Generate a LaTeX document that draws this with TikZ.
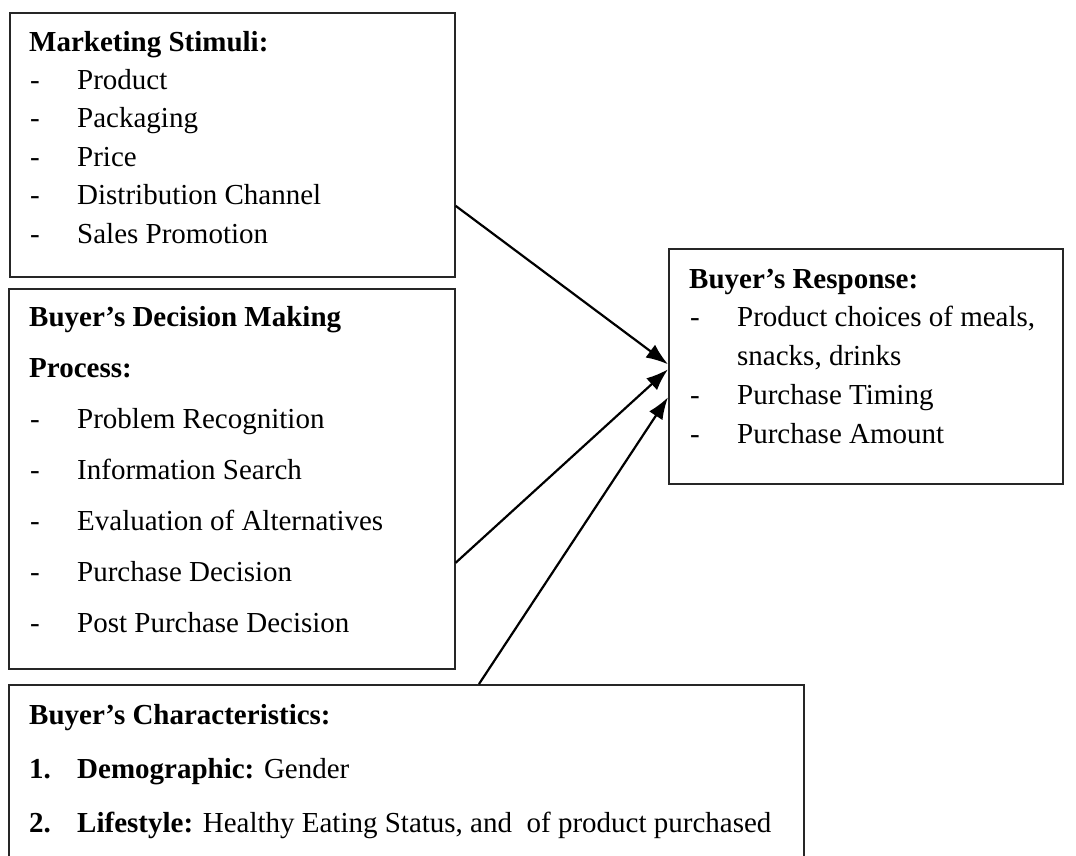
\documentclass[tikz,border=0pt]{standalone}
\usepackage{fontspec}
\setmainfont{Liberation Serif}
\usetikzlibrary{arrows.meta}

\begin{document}
\begin{tikzpicture}[x=1pt,y=-1pt,
    box/.style={draw=black!85, line width=1.6pt, inner sep=0pt, anchor=north west},
    txt/.style={anchor=base west, inner sep=0pt, font=\fontsize{29}{35}\selectfont},
    head/.style={txt, font=\fontsize{29}{35}\selectfont\bfseries},
    link/.style={line width=2.2pt, -{Latex[length=22pt,width=16pt]}}]

    \useasboundingbox (0,0) rectangle (1076,855);

    % Rahmen der vier Kaesten
    \node[box, minimum width=445pt, minimum height=264pt] (stim) at (9,12) {};
    \node[box, minimum width=446pt, minimum height=380pt] (proc) at (8,288) {};
    \node[box, minimum width=394pt, minimum height=235pt] (resp) at (668,248) {};
    \node[box, minimum width=795pt, minimum height=190pt] (chars) at (8,684) {};

    % Marketing Stimuli
    \node[head] (stimh) at (29,51) {Marketing Stimuli:};
    \foreach \t [count=\i] in {Product, Packaging, Price, Distribution Channel, Sales Promotion}{
        \node[txt] (stimd\i) at (30,51+38.4*\i) {-};
        \node[txt] (stimt\i) at (77,51+38.4*\i) {\t};
    }

    % Entscheidungsprozess
    \node[head] (proch) at (29,326) {Buyer’s Decision Making};
    \node[head] (proch2) at (29,377) {Process:};
    \foreach \t [count=\i] in {Problem Recognition, Information Search, Evaluation of Alternatives, Purchase Decision, Post Purchase Decision}{
        \node[txt] (procd\i) at (30,377+51*\i) {-};
        \node[txt] (proct\i) at (77,377+51*\i) {\t};
    }

    % Reaktion des Kaeufers
    \node[head] (resph) at (689,288) {Buyer’s Response:};
    \node[txt] (respd1) at (690,326) {-};
    \node[txt] (respt1) at (737,326) {Product choices of meals,};
    \node[txt] (respt1b) at (737,365) {snacks, drinks};
    \node[txt] (respd2) at (690,404) {-};
    \node[txt] (respt2) at (737,404) {Purchase Timing};
    \node[txt] (respd3) at (690,443) {-};
    \node[txt] (respt3) at (737,443) {Purchase Amount};

    % Merkmale des Kaeufers
    \node[head] (charsh) at (29,724) {Buyer’s Characteristics:};
    \node[head] (charsn1) at (29,778) {1.};
    \node[txt] (charst1) at (77,778) {\textbf{Demographic:} Gender};
    \node[head] (charsn2) at (29,832) {2.};
    \node[txt] (charst2) at (77,832) {\textbf{Lifestyle:} Healthy Eating Status, and~ of product purchased};

    % Pfeile zur Reaktion
    \draw[link] ([yshift=-61pt]stim.east) -- ([yshift=2pt]resp.west);
    \draw[link] ([yshift=-84pt]proc.east) -- ([yshift=-3pt]resp.west);
    \draw[link] ([xshift=471pt]chars.north west) -- ([yshift=-31pt]resp.west);

\end{tikzpicture}
\end{document}
